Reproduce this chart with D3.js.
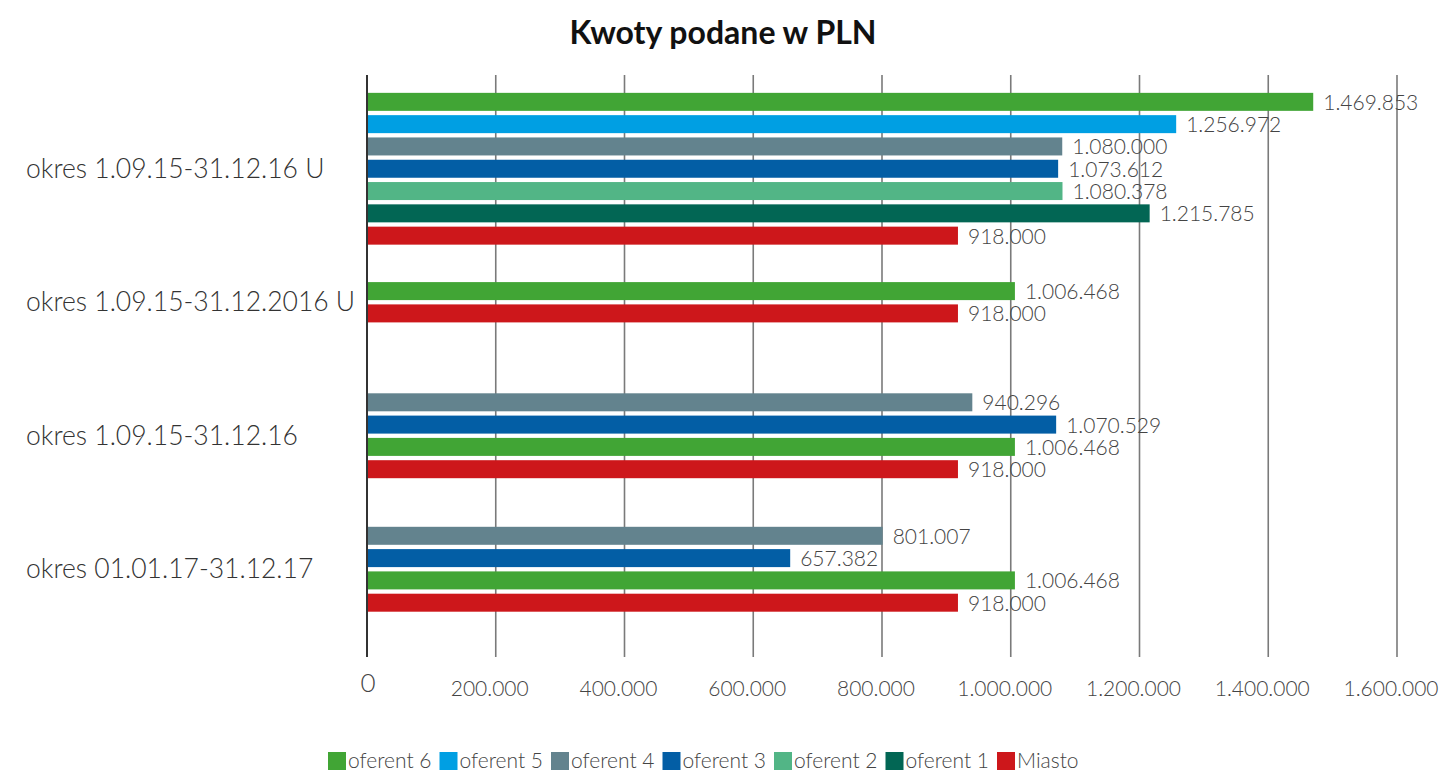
<!DOCTYPE html>
<html>
<head>
<meta charset="utf-8">
<script src="https://cdn.jsdelivr.net/npm/d3@7"></script>
<style>
  body { margin: 0; background: #fff; }
  text { font-family: Lato, "Open Sans", sans-serif; }
</style>
</head>
<body>
<svg id="chart"></svg>
<script>
var viewWidth = 1446;
var viewHeight = 771;

// categories (top to bottom)
var categories = [
  "okres 1.09.15-31.12.16 U",
  "okres 1.09.15-31.12.2016 U",
  "okres 1.09.15-31.12.16",
  "okres 01.01.17-31.12.17"
];
var seriesNames = ["oferent 6", "oferent 5", "oferent 4", "oferent 3", "oferent 2", "oferent 1", "Miasto"];
var seriesColors = ["#41a535", "#009fe3", "#63838e", "#035ea5", "#52b586", "#026654", "#cd171b"];

// bars of each category, in the order they are drawn top to bottom
var group1Series = ["oferent 6", "oferent 5", "oferent 4", "oferent 3", "oferent 2", "oferent 1", "Miasto"];
var group1Values = [1469853, 1256972, 1080000, 1073612, 1080378, 1215785, 918000];
var group2Series = ["oferent 6", "Miasto"];
var group2Values = [1006468, 918000];
var group3Series = ["oferent 4", "oferent 3", "oferent 6", "Miasto"];
var group3Values = [940296, 1070529, 1006468, 918000];
var group4Series = ["oferent 4", "oferent 3", "oferent 6", "Miasto"];
var group4Values = [801007, 657382, 1006468, 918000];

var xTicks = [0, 200000, 400000, 600000, 800000, 1000000, 1200000, 1400000, 1600000];

var groups = [
  {series: group1Series, values: group1Values},
  {series: group2Series, values: group2Values},
  {series: group3Series, values: group3Values},
  {series: group4Series, values: group4Values}
];

var bars = [];
groups.forEach(function(g, gi) {
  g.values.forEach(function(v, i) {
    bars.push({cat: categories[gi], series: g.series[i], value: v, idx: i, n: g.values.length});
  });
});

var fmt = function(v) {
  return String(v).replace(/\B(?=(\d{3})+(?!\d))/g, ".");
};

var color = d3.scaleOrdinal().domain(seriesNames).range(seriesColors);

var plotTop = 75, plotBottom = 657;
var x = d3.scaleLinear().domain([0, 1600000]).range([367, 1397]);
var y0 = d3.scaleBand().domain(categories).range([102, 636]);
var barStep = 22.3, barH = 18;

function barCenter(d) {
  return y0(d.cat) + y0.bandwidth() / 2 + (d.idx - (d.n - 1) / 2) * barStep;
}

var svg = d3.select("#chart")
    .attr("width", viewWidth)
    .attr("height", viewHeight);

// title
svg.append("text")
    .attr("x", 723)
    .attr("y", 44)
    .attr("text-anchor", "middle")
    .style("font-size", "32px")
    .style("font-weight", "bold")
    .style("fill", "#111")
    .text("Kwoty podane w PLN");

// grid lines
svg.append("g")
  .selectAll("line")
  .data(xTicks.slice(1))
  .enter().append("line")
    .attr("x1", function(d) { return x(d); })
    .attr("x2", function(d) { return x(d); })
    .attr("y1", plotTop)
    .attr("y2", plotBottom)
    .style("stroke", "#7a7a7a")
    .style("stroke-width", 1.6);

// tick labels
svg.append("g")
  .selectAll("text")
  .data(xTicks)
  .enter().append("text")
    .attr("x", function(d) { return d === 0 ? x(d) + 1 : x(d) - 6; })
    .attr("y", function(d) { return d === 0 ? 692 : 696; })
    .attr("text-anchor", "middle")
    .style("font-size", function(d) { return d === 0 ? "26px" : "21px"; })
    .style("font-weight", 300)
    .style("fill", "#444")
    .text(function(d) { return fmt(d); });

// bars
svg.append("g")
  .selectAll("rect")
  .data(bars)
  .enter().append("rect")
    .attr("x", x(0))
    .attr("y", function(d) { return barCenter(d) - barH / 2; })
    .attr("width", function(d) { return x(d.value) - x(0); })
    .attr("height", barH)
    .style("fill", function(d) { return color(d.series); });

// value labels
svg.append("g")
  .selectAll("text")
  .data(bars)
  .enter().append("text")
    .attr("x", function(d) { return x(d.value) + 10; })
    .attr("y", function(d) { return barCenter(d) + 8; })
    .style("font-size", "21px")
    .style("font-weight", 300)
    .style("fill", "#444")
    .text(function(d) { return fmt(d.value); });

// left axis line
svg.append("line")
    .attr("x1", x(0))
    .attr("x2", x(0))
    .attr("y1", plotTop)
    .attr("y2", plotBottom)
    .style("stroke", "#333")
    .style("stroke-width", 2);

// category labels
svg.append("g")
  .selectAll("text")
  .data(categories)
  .enter().append("text")
    .attr("x", 26)
    .attr("y", function(d) { return y0(d) + y0.bandwidth() / 2 + 9; })
    .style("font-size", "26.5px")
    .style("font-weight", 300)
    .style("fill", "#333")
    .text(function(d) { return d; });

// legend
var legend = svg.append("g");
var lx = 328;
seriesNames.forEach(function(s) {
  legend.append("rect")
    .attr("x", lx)
    .attr("y", 752)
    .attr("width", 18)
    .attr("height", 18)
    .style("fill", color(s));
  var t = legend.append("text")
    .attr("x", lx + 20)
    .attr("y", 768)
    .style("font-size", "21px")
    .style("font-weight", 300)
    .style("fill", "#444")
    .text(s);
  lx += 20 + t.node().getComputedTextLength() + 8;
});
</script>
</body>
</html>
